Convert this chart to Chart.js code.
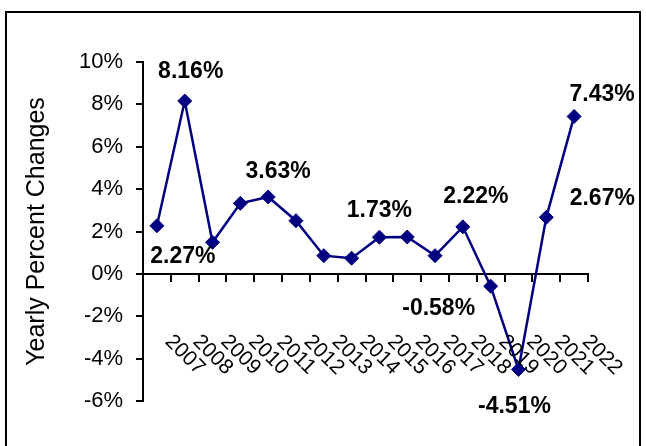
<!DOCTYPE html>
<html>
<head>
<meta charset="utf-8">
<script src="https://cdn.jsdelivr.net/npm/chart.js@4/dist/chart.umd.min.js"></script>
<style>
    html, body { margin: 0; padding: 0; background: #fff; }
    #chart { display: block; }
</style>
</head>
<body>
<canvas id="chart" width="646" height="446"></canvas>
<script>
// --- Dane wykresu ---
const years = ['2007', '2008', '2009', '2010', '2011', '2012', '2013', '2014',
               '2015', '2016', '2017', '2018', '2019', '2020', '2021', '2022'];
const changes = [2.27, 8.16, 1.49, 3.33, 3.63, 2.51, 0.86, 0.74,
                 1.73, 1.74, 0.86, 2.22, -0.58, -4.51, 2.67, 7.43];
const labeledPoints = [0, 1, 4, 8, 11, 12, 13, 14, 15];
const yTicks = [-6, -4, -2, 0, 2, 4, 6, 8, 10];

const NAVY = '#000080';
const FONT = "'Liberation Sans', Arial, sans-serif";

// przesunięcia etykiet danych względem punktu (px)
const labelOffsets = {
    0: [26, 31], 1: [6, -29], 4: [10, -25], 8: [0, -27], 11: [13, -30],
    12: [-52, 22], 13: [-4, 37], 14: [56, -19], 15: [28, -22]
};

// Ramka wokół całego wykresu
const framePlugin = {
    id: 'frame',
    beforeDraw(chart) {
        const ctx = chart.ctx;
        ctx.save();
        ctx.fillStyle = '#fff';
        ctx.fillRect(0, 0, chart.width, chart.height);
        ctx.strokeStyle = '#000';
        ctx.lineWidth = 2;
        ctx.strokeRect(6, 12, 634, 460);
        ctx.restore();
    }
};

// Etykiety lat pod osią, obrócone o 45 stopni
const yearLabelsPlugin = {
    id: 'yearLabels',
    afterDraw(chart) {
        const ctx = chart.ctx;
        const xs = chart.scales.x;
        const y0 = chart.scales.y.getPixelForValue(0);
        ctx.save();
        ctx.font = '21px ' + FONT;
        ctx.fillStyle = '#000';
        ctx.textAlign = 'center';
        ctx.textBaseline = 'middle';
        years.forEach((yr, i) => {
            ctx.save();
            ctx.translate(xs.getPixelForValue(i) + 28, y0 + 81);
            ctx.rotate(Math.PI / 4);
            ctx.fillText(yr, 0, 0);
            ctx.restore();
        });
        ctx.restore();
    }
};

// Etykiety wartości przy wybranych punktach
const valueLabelsPlugin = {
    id: 'valueLabels',
    afterDatasetsDraw(chart) {
        const ctx = chart.ctx;
        const meta = chart.getDatasetMeta(0);
        ctx.save();
        ctx.font = 'bold 23px ' + FONT;
        ctx.fillStyle = '#000';
        ctx.textAlign = 'center';
        ctx.textBaseline = 'middle';
        labeledPoints.forEach(i => {
            const pt = meta.data[i];
            const off = labelOffsets[i] || [0, -25];
            ctx.fillText(changes[i].toFixed(2) + '%', pt.x + off[0], pt.y + off[1]);
        });
        ctx.restore();
    }
};

new Chart(document.getElementById('chart'), {
    type: 'line',
    data: {
        labels: years,
        datasets: [{
            data: changes,
            borderColor: NAVY,
            borderWidth: 2.5,
            backgroundColor: NAVY,
            pointBackgroundColor: NAVY,
            pointBorderColor: NAVY,
            pointStyle: 'rectRot',
            pointRadius: 7,
            pointBorderWidth: 1,
            tension: 0,
            fill: false
        }]
    },
    options: {
        responsive: false,
        animation: false,
        layout: { padding: { left: 0, top: 62, right: 58, bottom: 45 } },
        plugins: {
            legend: { display: false },
            tooltip: { enabled: false }
        },
        scales: {
            x: {
                type: 'category',
                offset: true,
                position: { y: 0 },
                grid: { drawOnChartArea: false, drawTicks: true, tickLength: 7, offset: true, color: '#000', lineWidth: 2 },
                border: { color: '#000', width: 2 },
                ticks: { display: false },
                afterFit(s) { s.height = 0; }
            },
            y: {
                min: -6,
                max: 10,
                afterBuildTicks(s) { s.ticks = yTicks.map(v => ({ value: v })); },
                ticks: {
                    color: '#000',
                    padding: 13,
                    font: { family: FONT, size: 22 },
                    callback: v => v + '%'
                },
                grid: { drawOnChartArea: false, drawTicks: true, tickLength: 7, color: '#000', lineWidth: 2 },
                border: { color: '#000', width: 2 },
                title: {
                    display: true,
                    text: 'Yearly Percent Changes',
                    color: '#000',
                    font: { family: FONT, size: 25 },
                    padding: { top: 22, bottom: 0 }
                },
                afterFit(s) { s.width = 143; }
            }
        }
    },
    plugins: [framePlugin, yearLabelsPlugin, valueLabelsPlugin]
});
</script>
</body>
</html>
